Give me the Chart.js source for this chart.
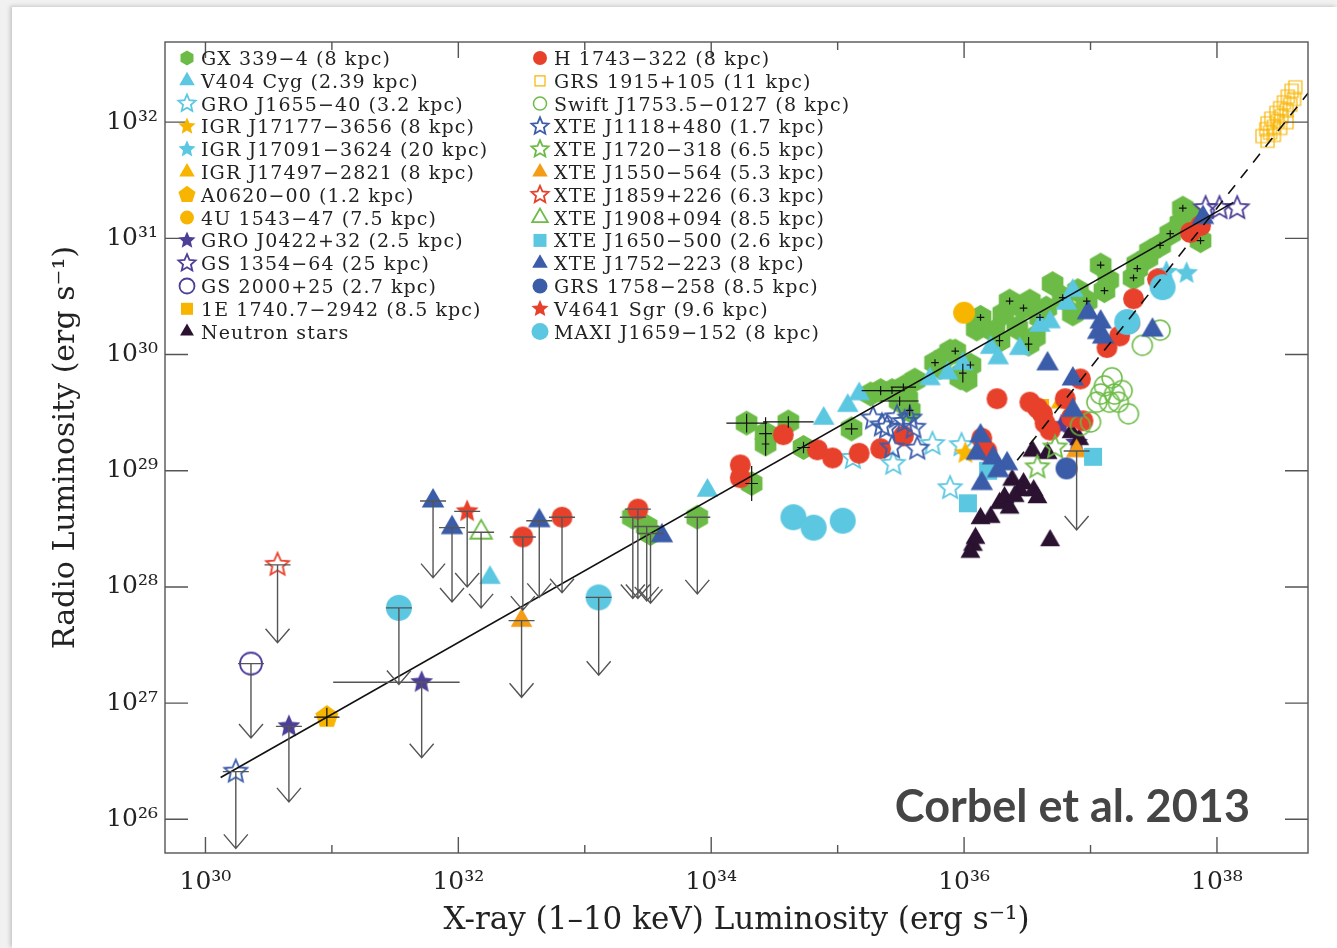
<!DOCTYPE html>
<html>
<head>
<meta charset="utf-8">
<title>Radio / X-ray luminosity plane</title>
<script src="https://cdn.jsdelivr.net/npm/chart.js@4.4.1/dist/chart.umd.min.js"></script>
<style>
  html, body { margin: 0; padding: 0; background: #f1f1f1; overflow: hidden; }
  #card { position: absolute; left: 12px; top: 7px; width: 1325px; height: 941px; background: #fff;
          box-shadow: -2px -1px 4px rgba(0, 0, 0, 0.18); }
  #chart { display: block; }
</style>
</head>
<body>
<div id="card"><canvas id="chart" width="1325" height="941"></canvas></div>
<script>
'use strict';

// all values are log10 of luminosity (erg/s)
// point = [logLx, logLr, upperLimitArrowTip, xErrLow, xErrHigh, yErr]
var gx339 = [
  [33.38, 28.60, 27.90], [33.49, 28.52, 27.88], [33.52, 28.46, 27.86], [33.89, 28.60, 27.94],
  [34.28, 29.41, null, 0.16, 0.16, 0.08], [34.43, 29.32, null, 0.05, 0.05, 0.14], [34.43, 29.23, null, 0.03, 0.03, 0.10],
  [34.61, 29.42, null, 0.20, 0.20, 0.05], [34.32, 28.89, null, 0.05, 0.05, 0.15], [34.73, 29.20, null, 0.05, 0.05, 0.05],
  [35.11, 29.36, null, 0.05, 0.05, 0.05], [35.34, 29.69, null, 0.15, 0.15, 0.04], [35.43, 29.69, null, 0.10, 0.10, 0.03],
  [35.52, 29.72, null, 0.10, 0.10, 0.03], [35.49, 29.60, null, 0.15, 0.15, 0.04], [35.55, 29.62],
  [35.57, 29.52, null, 0.03, 0.03, 0.05], [35.61, 29.78], [35.26, 29.66], [35.77, 29.93, null, 0.03, 0.03, 0.03],
  [35.85, 29.98], [35.93, 30.03, null, 0.03, 0.03, 0.03], [35.81, 29.89], [35.97, 29.80],
  [35.99, 29.84, null, 0.03, 0.03, 0.08], [36.02, 29.78], [36.05, 29.91, null, 0.03, 0.03, 0.03], [36.10, 30.22],
  [36.13, 30.32, null, 0.03, 0.03, 0.03], [35.89, 30.03], [36.28, 30.12, null, 0.03, 0.03, 0.05], [36.31, 30.35],
  [36.36, 30.46, null, 0.03, 0.03, 0.03], [36.42, 30.23], [36.47, 30.40, null, 0.03, 0.03, 0.03],
  [36.51, 30.09, null, 0.03, 0.03, 0.06], [36.52, 30.46], [36.60, 30.32, null, 0.03, 0.03, 0.03], [36.70, 30.61],
  [36.78, 30.49, null, 0.03, 0.03, 0.03], [36.86, 30.35], [36.97, 30.46, null, 0.03, 0.03, 0.03],
  [37.08, 30.77, null, 0.03, 0.03, 0.03], [37.14, 30.64], [37.11, 30.55, null, 0.03, 0.03, 0.03],
  [37.37, 30.74, null, 0.03, 0.03, 0.03], [37.45, 30.83], [37.34, 30.66, null, 0.03, 0.03, 0.03], [37.47, 30.89],
  [37.37, 30.78], [37.63, 31.04, null, 0.03, 0.03, 0.03], [37.71, 31.13], [37.73, 31.26, null, 0.03, 0.03, 0.03],
  [37.87, 30.98, null, 0.03, 0.03, 0.03], [37.79, 31.20], [37.55, 30.94, null, 0.03, 0.03, 0.03],
  [36.65, 30.40], [36.90, 30.55], [36.24, 30.20], [36.56, 30.15]
];
var v404 = [
  [32.25, 28.08], [33.97, 28.83], [34.89, 29.45], [35.08, 29.56], [35.17, 29.66], [35.73, 29.79], [35.87, 29.84],
  [35.99, 29.92], [36.21, 30.06], [36.27, 29.97], [36.44, 30.05], [36.60, 30.25], [36.68, 30.28], [36.81, 30.44],
  [36.86, 30.55]
];
var gro1655 = [[35.12, 29.11], [35.44, 29.06], [35.75, 29.23], [35.98, 29.22], [35.89, 28.85]];
var igr17177 = [[36.01, 29.15]];
var igr17091 = [[37.60, 30.71], [37.76, 30.70]];
var igr17497 = [[36.77, 29.59]];
var a0620 = [[30.96, 26.88, null, 0.10, 0.10, 0.08]];
var u1543 = [[36.00, 30.36]];
var gro0422 = [[30.66, 26.80, 26.15], [31.71, 27.18, 26.53, 0.70, 0.30], [36.77, 29.39], [36.89, 29.24]];
var gs1354 = [[37.91, 31.26], [38.02, 31.26], [38.16, 31.26]];
var gs2000 = [[30.36, 27.34, 26.70]];
var e1740 = [[36.60, 29.54]];
var neutronStars = [
  [36.07, 28.36], [36.09, 28.42], [36.13, 28.59], [36.21, 28.60], [36.28, 28.72], [36.32, 28.77], [36.38, 28.92],
  [36.36, 28.68], [36.47, 28.89], [36.55, 28.83], [36.58, 28.77], [36.44, 28.83], [36.54, 29.17], [36.66, 29.15],
  [36.85, 29.33], [36.68, 28.40], [36.91, 29.27], [36.40, 28.78], [36.05, 28.30]
];
var h1743 = [
  [32.51, 28.43, 27.80], [32.82, 28.60, 27.95], [33.42, 28.67, 27.90], [34.23, 29.05], [34.23, 28.94], [34.57, 29.31],
  [34.84, 29.18], [34.96, 29.11], [35.17, 29.15], [35.34, 29.19], [35.52, 29.30], [36.26, 29.62], [36.52, 29.59],
  [36.58, 29.54], [36.62, 29.49], [36.64, 29.41], [36.68, 29.35], [36.80, 29.62], [36.92, 29.79], [36.94, 29.43],
  [36.85, 29.46], [36.14, 29.28], [36.18, 29.17], [37.13, 30.06], [37.23, 30.16], [37.34, 30.48], [37.53, 30.65],
  [37.31, 30.27], [37.79, 31.05], [37.87, 31.11]
];
var grs1915 = [
  [38.36, 31.88], [38.39, 31.94], [38.40, 31.99], [38.42, 31.91], [38.43, 32.03], [38.45, 31.96], [38.47, 32.08],
  [38.48, 32.01], [38.50, 32.12], [38.51, 32.05], [38.53, 32.17], [38.55, 32.10], [38.56, 32.22], [38.58, 32.15],
  [38.59, 32.27], [38.61, 32.20], [38.62, 32.30], [38.40, 31.84], [38.45, 31.89], [38.50, 31.95], [38.55, 32.00]
];
var swift1753 = [
  [37.17, 29.80], [37.08, 29.66], [37.05, 29.59], [37.15, 29.59], [37.22, 29.59], [37.19, 29.66], [37.30, 29.49],
  [37.00, 29.42], [36.92, 29.39], [37.41, 30.08], [37.55, 30.21], [37.11, 29.73], [37.25, 29.69]
];
var xte1118 = [
  [30.24, 26.41, 25.75], [35.28, 29.45], [35.35, 29.39], [35.39, 29.37], [35.47, 29.46], [35.53, 29.42],
  [35.60, 29.37], [35.43, 29.20], [35.63, 29.19], [35.57, 29.45]
];
var xte1720 = [[36.72, 29.20], [36.58, 29.03]];
var xte1550 = [[32.50, 27.71, 27.05], [36.89, 29.17, 28.49]];
var xte1859 = [[30.57, 28.19, 27.52]];
var xte1908 = [[32.18, 28.47, 27.82]];
var xte1650 = [[36.03, 28.72], [37.02, 29.12], [36.19, 29.00]];
var xte1752 = [
  [31.80, 28.74, 28.08], [31.95, 28.51, 27.87], [32.64, 28.57, 27.91], [33.61, 28.44], [36.66, 29.92], [36.86, 29.79],
  [36.98, 30.36], [37.08, 30.28], [37.06, 30.19], [37.10, 30.15], [37.49, 30.21], [36.86, 29.52], [36.13, 29.30],
  [36.10, 29.15], [36.23, 29.11], [36.34, 29.06], [36.27, 29.00], [36.14, 28.89], [37.89, 31.18]
];
var grs1758 = [[36.81, 29.02]];
var v4641 = [[32.07, 28.65, 28.00]];
var maxi1659 = [[31.53, 27.82, 27.16], [33.11, 27.91, 27.24], [34.65, 28.60], [34.81, 28.51], [35.04, 28.57],
  [37.29, 30.28], [37.57, 30.58]];

// fitted correlations
var fitStandard = [[30.12, 26.36], [38.13, 31.31]];
var fitOutliers = [[36.42, 29.09], [38.72, 32.25]];

// axes
var xRange = [29.68, 38.72];
var yRange = [25.71, 32.69];
var xLabelExps = [30, 32, 34, 36, 38];
var xTickExps = [30, 31, 32, 33, 34, 35, 36, 37, 38];
var yTickExps = [26, 27, 28, 29, 30, 31, 32];

// colours
var green = '#6cbb46', cyan = '#5bc7e1', red = '#e8412b', blue = '#3b5ca9', purple = '#4b3f98',
    gold = '#f8b500', orange = '#f49c16', dark = '#2b1231';

var series = [
  {label: 'GX 339−4 (8 kpc)', data: gx339, shape: 'hexagon', color: green, filled: true, r: 12.5, lr: 7.5},
  {label: 'V404 Cyg (2.39 kpc)', data: v404, shape: 'triangle', color: cyan, filled: true, r: 12.5, lr: 9},
  {label: 'GRO J1655−40 (3.2 kpc)', data: gro1655, shape: 'star', color: cyan, filled: false, r: 12, lr: 9},
  {label: 'IGR J17177−3656 (8 kpc)', data: igr17177, shape: 'star', color: gold, filled: true, r: 12, lr: 9},
  {label: 'IGR J17091−3624 (20 kpc)', data: igr17091, shape: 'star', color: cyan, filled: true, r: 12, lr: 9},
  {label: 'IGR J17497−2821 (8 kpc)', data: igr17497, shape: 'triangle', color: gold, filled: true, r: 12.5, lr: 9},
  {label: 'A0620−00 (1.2 kpc)', data: a0620, shape: 'pentagon', color: gold, filled: true, r: 12, lr: 9},
  {label: '4U 1543−47 (7.5 kpc)', data: u1543, shape: 'circle', color: gold, filled: true, r: 11, lr: 7},
  {label: 'GRO J0422+32 (2.5 kpc)', data: gro0422, shape: 'star', color: purple, filled: true, r: 12, lr: 9},
  {label: 'GS 1354−64 (25 kpc)', data: gs1354, shape: 'star', color: purple, filled: false, r: 12, lr: 9},
  {label: 'GS 2000+25 (2.7 kpc)', data: gs2000, shape: 'circle', color: purple, filled: false, r: 11, lr: 7.5},
  {label: '1E 1740.7−2942 (8.5 kpc)', data: e1740, shape: 'square', color: gold, filled: true, r: 9, lr: 6},
  {label: 'Neutron stars', data: neutronStars, shape: 'triangle', color: dark, filled: true, r: 11.5, lr: 8},
  {label: 'H 1743−322 (8 kpc)', data: h1743, shape: 'circle', color: red, filled: true, r: 10.5, lr: 7},
  {label: 'GRS 1915+105 (11 kpc)', data: grs1915, shape: 'square', color: gold, filled: false, r: 6.5, lr: 5, lw: 1.2},
  {label: 'Swift J1753.5−0127 (8 kpc)', data: swift1753, shape: 'circle', color: green, filled: false, r: 10, lr: 6.5, lw: 1.5},
  {label: 'XTE J1118+480 (1.7 kpc)', data: xte1118, shape: 'star', color: blue, filled: false, r: 12, lr: 9},
  {label: 'XTE J1720−318 (6.5 kpc)', data: xte1720, shape: 'star', color: green, filled: false, r: 12, lr: 9},
  {label: 'XTE J1550−564 (5.3 kpc)', data: xte1550, shape: 'triangle', color: orange, filled: true, r: 12.5, lr: 9},
  {label: 'XTE J1859+226 (6.3 kpc)', data: xte1859, shape: 'star', color: red, filled: false, r: 12, lr: 9},
  {label: 'XTE J1908+094 (8.5 kpc)', data: xte1908, shape: 'triangle', color: green, filled: false, r: 12.5, lr: 9},
  {label: 'XTE J1650−500 (2.6 kpc)', data: xte1650, shape: 'square', color: cyan, filled: true, r: 9, lr: 6.5},
  {label: 'XTE J1752−223 (8 kpc)', data: xte1752, shape: 'triangle', color: blue, filled: true, r: 13, lr: 9},
  {label: 'GRS 1758−258 (8.5 kpc)', data: grs1758, shape: 'circle', color: blue, filled: true, r: 11, lr: 7.5},
  {label: 'V4641 Sgr (9.6 kpc)', data: v4641, shape: 'star', color: red, filled: true, r: 12, lr: 9},
  {label: 'MAXI J1659−152 (8 kpc)', data: maxi1659, shape: 'circle', color: cyan, filled: true, r: 13, lr: 8.5}
];

var supDigits = {'0': '⁰', '1': '¹', '2': '²', '3': '³', '4': '⁴', '5': '⁵', '6': '⁶', '7': '⁷', '8': '⁸', '9': '⁹'};
function powLabel(e) {
  return '10' + String(e).split('').map(function(c) { return supDigits[c]; }).join('');
}

// marker shapes, centred on 0,0
function tracePath(ctx, shape, r) {
  ctx.beginPath();
  if (shape === 'circle') {
    ctx.arc(0, 0, r, 0, Math.PI * 2);
  } else if (shape === 'square') {
    ctx.rect(-r, -r, 2 * r, 2 * r);
  } else {
    var n = {triangle: 3, pentagon: 5, hexagon: 6, star: 10}[shape];
    for (var k = 0; k < n; k++) {
      var ang = -Math.PI / 2 + k * 2 * Math.PI / n;
      var rr = (shape === 'star' && k % 2) ? r * 0.46 : r;
      if (k === 0) ctx.moveTo(rr * Math.cos(ang), rr * Math.sin(ang));
      else ctx.lineTo(rr * Math.cos(ang), rr * Math.sin(ang));
    }
    ctx.closePath();
  }
}
function drawMarker(ctx, s, r) {
  tracePath(ctx, s.shape, r);
  if (s.filled) {
    ctx.fillStyle = s.color;
    ctx.fill();
  } else {
    ctx.strokeStyle = s.color;
    ctx.lineWidth = s.lw || 1.8;
    ctx.lineJoin = 'miter';
    ctx.stroke();
  }
}
function makeMarker(s) {
  var size = Math.ceil(2 * s.r + 6);
  var c = document.createElement('canvas');
  c.width = size;
  c.height = size;
  var cx = c.getContext('2d');
  cx.translate(size / 2, size / 2);
  drawMarker(cx, s, s.r);
  return c;
}

function toPoint(p) {
  return {x: Math.pow(10, p[0]), y: Math.pow(10, p[1]), tip: p[2], dxl: p[3], dxh: p[4], dy: p[5]};
}

var datasets = series.map(function(s, i) {
  return {
    label: s.label,
    data: s.data.map(toPoint),
    pointStyle: makeMarker(s),
    pointRadius: s.r,
    showLine: false,
    order: -i,
    src: s
  };
});
datasets.push({
  type: 'line', data: fitStandard.map(toPoint), borderColor: '#111', borderWidth: 1.6,
  pointRadius: 0, fill: false, showLine: true, order: -100
});
datasets.push({
  type: 'line', data: fitOutliers.map(toPoint), borderColor: '#111', borderWidth: 1.6, borderDash: [11, 9],
  pointRadius: 0, fill: false, showLine: true, order: -100
});

// upper-limit arrows and error bars
var limitsPlugin = {
  id: 'limits',
  afterDatasetsDraw: function(chart) {
    var ctx = chart.ctx;
    var xs = chart.scales.x, ys = chart.scales.y;
    ctx.save();
    chart.data.datasets.forEach(function(ds, i) {
      if (!ds.src) return;
      var meta = chart.getDatasetMeta(i);
      ds.data.forEach(function(p, j) {
        var el = meta.data[j];
        var lx = Math.log10(p.x), px = el.x, py = el.y;
        if (p.tip != null) {
          var ty = ys.getPixelForValue(Math.pow(10, p.tip));
          ctx.strokeStyle = '#555';
          ctx.lineWidth = 1.4;
          ctx.beginPath();
          ctx.moveTo(px, py);
          ctx.lineTo(px, ty);
          ctx.moveTo(px - 12, ty - 14);
          ctx.lineTo(px, ty);
          ctx.lineTo(px + 12, ty - 14);
          var x0 = px - 13, x1 = px + 13;
          if (p.dxl) {
            x0 = xs.getPixelForValue(Math.pow(10, lx - p.dxl));
            x1 = xs.getPixelForValue(Math.pow(10, lx + p.dxh));
          }
          ctx.moveTo(x0, py);
          ctx.lineTo(x1, py);
          ctx.stroke();
        } else if (p.dxl || p.dy) {
          ctx.strokeStyle = '#111';
          ctx.lineWidth = 1.2;
          ctx.beginPath();
          if (p.dxl) {
            ctx.moveTo(xs.getPixelForValue(Math.pow(10, lx - p.dxl)), py);
            ctx.lineTo(xs.getPixelForValue(Math.pow(10, lx + p.dxh)), py);
          }
          if (p.dy) {
            var ly = Math.log10(p.y);
            ctx.moveTo(px, ys.getPixelForValue(Math.pow(10, ly - p.dy)));
            ctx.lineTo(px, ys.getPixelForValue(Math.pow(10, ly + p.dy)));
          }
          ctx.stroke();
        }
      });
    });
    ctx.restore();
  }
};

// frame with inward ticks, legend, credit
var framePlugin = {
  id: 'frame',
  afterDraw: function(chart) {
    var ctx = chart.ctx, a = chart.chartArea;
    var xs = chart.scales.x, ys = chart.scales.y;
    ctx.save();
    ctx.strokeStyle = '#555';
    ctx.lineWidth = 1.4;
    ctx.strokeRect(a.left, a.top, a.right - a.left, a.bottom - a.top);
    ctx.beginPath();
    xTickExps.forEach(function(e) {
      var x = xs.getPixelForValue(Math.pow(10, e));
      var len = xLabelExps.indexOf(e) >= 0 ? 16 : 8;
      ctx.moveTo(x, a.bottom); ctx.lineTo(x, a.bottom - len);
      ctx.moveTo(x, a.top); ctx.lineTo(x, a.top + len);
    });
    yTickExps.forEach(function(e) {
      var y = ys.getPixelForValue(Math.pow(10, e));
      ctx.moveTo(a.left, y); ctx.lineTo(a.left + 23, y);
      ctx.moveTo(a.right, y); ctx.lineTo(a.right - 23, y);
    });
    ctx.stroke();

    // legend, two columns of 13
    ctx.font = '19px "DejaVu Serif"';
    ctx.letterSpacing = '1.1px';
    ctx.textBaseline = 'alphabetic';
    chart.data.datasets.forEach(function(ds) {
      if (!ds.src) return;
      var i = -ds.order;
      var col = i < 13 ? 0 : 1, row = i % 13;
      var y = a.top + 16 + row * 22.8;
      var mx = a.left + (col ? 375 : 22);
      ctx.save();
      ctx.translate(mx, y);
      drawMarker(ctx, ds.src, ds.src.lr);
      ctx.restore();
      ctx.fillStyle = '#222';
      ctx.fillText(ds.label, mx + 14, y + 7);
    });
    ctx.letterSpacing = '0px';

    ctx.font = 'bold 45px Lato';
    ctx.fillStyle = '#454545';
    ctx.textAlign = 'right';
    ctx.fillText('Corbel et al. 2013', a.right - 58, a.bottom - 31);
    ctx.restore();
  }
};

var tickFont = {family: 'DejaVu Serif', size: 25};

new Chart(document.getElementById('chart'), {
  type: 'scatter',
  data: {datasets: datasets},
  plugins: [limitsPlugin, framePlugin],
  options: {
    responsive: false,
    animation: false,
    layout: {padding: {top: 35, right: 29, left: 0, bottom: 0}},
    plugins: {legend: {display: false}, tooltip: {enabled: false}},
    scales: {
      x: {
        type: 'logarithmic',
        min: Math.pow(10, xRange[0]),
        max: Math.pow(10, xRange[1]),
        afterBuildTicks: function(axis) {
          axis.ticks = xLabelExps.map(function(e) { return {value: Math.pow(10, e)}; });
        },
        afterFit: function(s) { s.height = 95; },
        grid: {display: false, drawTicks: false},
        border: {display: false},
        ticks: {
          callback: function(v) { return powLabel(Math.round(Math.log10(v))); },
          font: tickFont, color: '#222', padding: 14, autoSkip: false, maxRotation: 0
        },
        title: {
          display: true, text: 'X-ray (1–10 keV) Luminosity (erg s⁻¹)',
          font: {family: 'DejaVu Serif', size: 31}, color: '#222', padding: {top: 0, bottom: 8}
        }
      },
      y: {
        type: 'logarithmic',
        min: Math.pow(10, yRange[0]),
        max: Math.pow(10, yRange[1]),
        afterBuildTicks: function(axis) {
          axis.ticks = yTickExps.map(function(e) { return {value: Math.pow(10, e)}; });
        },
        afterFit: function(s) { s.width = 153; },
        grid: {display: false, drawTicks: false},
        border: {display: false},
        ticks: {
          callback: function(v) { return powLabel(Math.round(Math.log10(v))); },
          font: tickFont, color: '#222', padding: 7, autoSkip: false
        },
        title: {
          display: true, text: 'Radio Luminosity (erg s⁻¹)',
          font: {family: 'DejaVu Serif', size: 30}, color: '#222', padding: {top: 36, bottom: 0}
        }
      }
    }
  }
});
</script>
</body>
</html>
